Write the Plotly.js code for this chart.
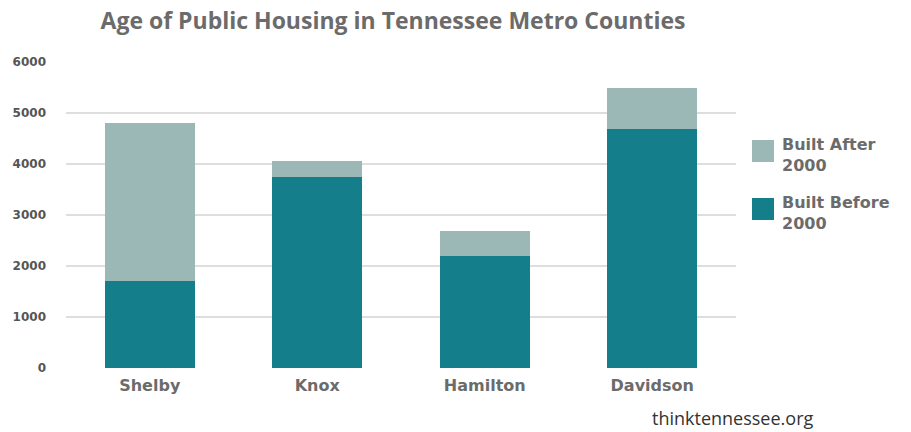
<!DOCTYPE html>
<html>
<head>
<meta charset="utf-8">
<script src="https://cdn.plot.ly/plotly-3.0.1.min.js"></script>
<style>html,body{margin:0;padding:0;background:#fff;}#chart{width:911px;height:432px;}</style>
</head>
<body>
<div id="chart"></div>
<script>
var counties = ["Shelby", "Knox", "Hamilton", "Davidson"];
var builtBefore2000 = [1700, 3740, 2200, 4690];
var builtAfter2000 = [3100, 320, 490, 800];
var seriesNames = ["Built Before<br>2000", "Built After<br>2000"];
var seriesColors = ["#147f8a", "#9bb7b6"];
var yTicks = [0, 1000, 2000, 3000, 4000, 5000, 6000];

var traces = [
  {type: "bar", name: seriesNames[0], x: counties, y: builtBefore2000,
   marker: {color: seriesColors[0]}, hoverinfo: "x+y+name"},
  {type: "bar", name: seriesNames[1], x: counties, y: builtAfter2000,
   marker: {color: seriesColors[1]}, hoverinfo: "x+y+name"}
];

var legendItems = [
  {name: seriesNames[1], color: seriesColors[1], y: 151},
  {name: seriesNames[0], color: seriesColors[0], y: 209}
];
var shapes = [], annotations = [];
legendItems.forEach(function(it){
  shapes.push({type: "rect", xref: "paper", yref: "paper",
    x0: (752 - 66) / 670, x1: (774 - 66) / 670,
    y0: (368 - (it.y + 11)) / 306, y1: (368 - (it.y - 11)) / 306,
    fillcolor: it.color, line: {width: 0}});
  annotations.push({xref: "paper", yref: "paper", x: (780 - 66) / 670,
    y: (368 - (it.y + 4)) / 306, xanchor: "left", yanchor: "middle", align: "left",
    text: "<b>" + it.name + "</b>", showarrow: false,
    font: {family: "DejaVu Sans", size: 16, color: "#6b6b6b"}});
});
annotations.push({xref: "paper", yref: "paper", x: (814 - 66) / 670, y: (368 - 418) / 306,
  xanchor: "right", yanchor: "middle", text: "thinktennessee.org", showarrow: false, borderpad: 0,
  font: {family: "Open Sans", size: 18, color: "#333"}});

var layout = {
  width: 911, height: 432,
  margin: {l: 66, r: 175, t: 62, b: 64},
  paper_bgcolor: "#fff", plot_bgcolor: "#fff",
  title: {text: "<b>Age of Public Housing in Tennessee Metro Counties</b>",
    x: 393 / 911, xanchor: "center", xref: "container", y: 1 - 21 / 432, yanchor: "middle",
    font: {family: "Open Sans", size: 23, color: "#6b6b6b"}},
  barmode: "stack",
  bargap: 0.46,
  showlegend: false,
  xaxis: {tickfont: {family: "DejaVu Sans", size: 16, color: "#6b6b6b", weight: "bold"},
    showgrid: false, zeroline: false, showline: false, ticks: "", ticklabelstandoff: 6},
  yaxis: {range: [0, 6000], tickvals: yTicks, showgrid: true, gridcolor: "#dedede", gridwidth: 1.5,
    zeroline: false, showline: false, ticks: "", ticklabelstandoff: 19,
    tickfont: {family: "DejaVu Sans", size: 12, color: "#555", weight: "bold"}},
  shapes: shapes,
  annotations: annotations
};
Plotly.newPlot("chart", traces, layout, {displayModeBar: false, staticPlot: true});
</script>
</body>
</html>
